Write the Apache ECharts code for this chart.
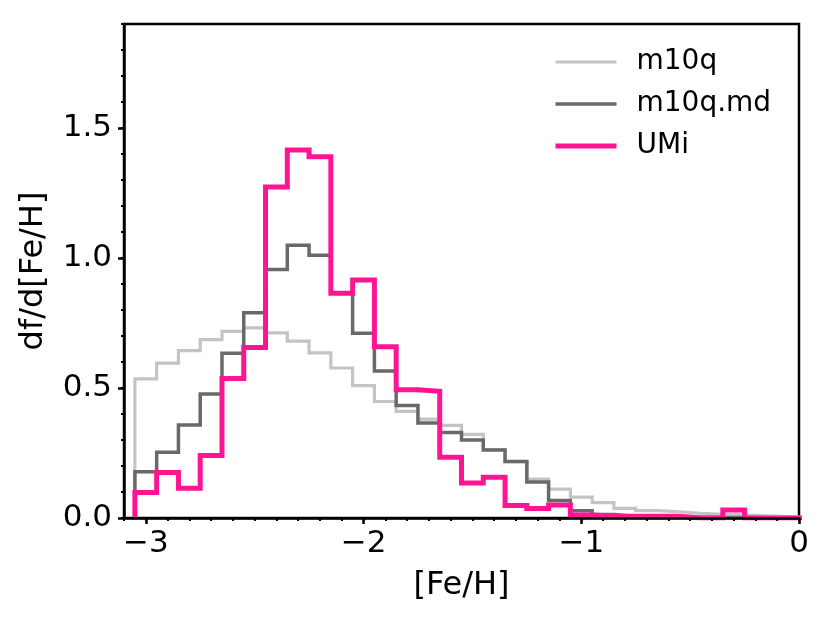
<!DOCTYPE html>
<html>
<head>
<meta charset="UTF-8">
<title>MDF m10q / UMi</title>
<script src="https://cdn.jsdelivr.net/npm/echarts@6/dist/echarts.min.js"></script>
<style>
html, body { margin: 0; padding: 0; background: #fff; }
#chart { width: 830px; height: 623px; }
</style>
</head>
<body>
<div id="chart"></div>
<script>
// bin centres in [Fe/H], all bins 0.1 wide
var binCenters = [-3.0, -2.9, -2.8, -2.7, -2.6, -2.5, -2.4, -2.3, -2.2, -2.1,
                  -2.0, -1.9, -1.8, -1.7, -1.6, -1.5, -1.4, -1.3, -1.2, -1.1,
                  -1.0, -0.9, -0.8, -0.7, -0.6, -0.5, -0.4, -0.3, -0.2, -0.1, 0.0];
var binWidth = 0.1;

// df/d[Fe/H]
var m10q = [0.535, 0.596, 0.644, 0.686, 0.718, 0.731, 0.712, 0.680, 0.635, 0.577,
            0.509, 0.448, 0.410, 0.380, 0.356, 0.322, 0.263, 0.217, 0.150, 0.111,
            0.080, 0.059, 0.037, 0.028, 0.024, 0.018, 0.014, 0.011, 0.008, 0.005, 0.002];
var m10qMd = [0.178, 0.253, 0.358, 0.477, 0.634, 0.789, 0.956, 1.049, 1.011, 0.864,
              0.711, 0.565, 0.433, 0.365, 0.329, 0.300, 0.262, 0.217, 0.138, 0.067,
              0.028, 0.013, 0.006, 0.005, 0.004, 0.003, 0.002, 0.002, 0.001, 0.001, 0.0];
var umi = [0.098, 0.175, 0.114, 0.240, 0.537, 0.656, 1.273, 1.415, 1.389, 0.864,
           0.915, 0.659, 0.493, 0.487, 0.234, 0.135, 0.157, 0.048, 0.037, 0.050,
           0.012, 0.007, 0.007, 0.007, 0.007, 0.0, 0.0, 0.031, 0.0, 0.0, 0.0];

var xMajorTicks = [-3, -2, -1, 0];
var yMajorTicks = [0, 0.5, 1.0, 1.5];

var xMin = -3.1, xMax = 0, yMin = 0, yMax = 1.9;

// minor ticks every 0.1
var xMinorTicks = [], yMinorTicks = [];
for (var k = 0; k <= 31; k++) xMinorTicks.push(Math.round((xMin + k * 0.1) * 10) / 10);
for (var k = 0; k <= 19; k++) yMinorTicks.push(Math.round(k * 0.1 * 10) / 10);

// outline of a step histogram (histtype='step')
function stepOutline(vals) {
  var pts = [];
  pts.push([binCenters[0] - binWidth / 2, 0]);
  for (var i = 0; i < vals.length; i++) {
    pts.push([binCenters[i] - binWidth / 2, vals[i]]);
    pts.push([binCenters[i] + binWidth / 2, vals[i]]);
  }
  pts.push([binCenters[binCenters.length - 1] + binWidth / 2, 0]);
  return pts;
}

var font = 'DejaVu Sans';
var names = ['m10q', 'm10q.md', 'UMi'];
var colors = ['#c4c4c4', '#696969', '#ff1493'];
var widths = [3.2, 3.5, 5];
var values = [m10q, m10qMd, umi];

var series = [];
for (var s = 0; s < names.length; s++) {
  series.push({
    name: names[s],
    type: 'line',
    data: stepOutline(values[s]),
    symbol: 'none',
    showSymbol: false,
    z: 2 + s,
    lineStyle: { color: colors[s], width: widths[s], join: 'miter' },
    itemStyle: { color: colors[s] }
  });
}

var chart = echarts.init(document.getElementById('chart'));

chart.setOption({
  animation: false,
  backgroundColor: '#fff',
  grid: {
    left: 124, right: 31, top: 24, bottom: 105,
    show: true, borderColor: '#000', borderWidth: 2.5, backgroundColor: 'transparent'
  },
  legend: {
    orient: 'vertical',
    left: 553, top: 48,
    padding: 0,
    itemWidth: 61, itemHeight: 28, itemGap: 14,
    data: names.map(function (n, i) {
      return {
        name: n,
        lineStyle: { width: widths[i], color: colors[i] },
        itemStyle: { opacity: 0, color: 'rgba(0,0,0,0)', borderWidth: 0 }
      };
    }),
    textStyle: { fontFamily: font, fontSize: 28, color: '#000', padding: [0, 0, 0, 15] }
  },
  xAxis: [{
    type: 'value', min: xMin, max: xMax, position: 'bottom', z: 10,
    axisLine: { show: true, onZero: false, lineStyle: { color: '#000', width: 2.5 } },
    axisTick: { show: true, customValues: xMinorTicks, length: 3, lineStyle: { color: '#000', width: 2 } },
    axisLabel: { show: false },
    splitLine: { show: false }
  }, {
    type: 'value', min: xMin, max: xMax, position: 'bottom', z: 10,
    axisLine: { show: false, onZero: false },
    axisTick: { show: true, customValues: xMajorTicks, length: 6, lineStyle: { color: '#000', width: 2.5 } },
    axisLabel: {
      customValues: xMajorTicks, margin: 10,
      fontFamily: font, fontSize: 31, color: '#000',
      formatter: function (v) { return String(v).replace('-', '\u2212'); }
    },
    splitLine: { show: false },
    name: '[Fe/H]', nameLocation: 'middle', nameGap: 52,
    nameTextStyle: { fontFamily: font, fontSize: 32, color: '#000' }
  }],
  yAxis: [{
    type: 'value', min: yMin, max: yMax, position: 'left', z: 10,
    axisLine: { show: true, onZero: false, lineStyle: { color: '#000', width: 2.5 } },
    axisTick: { show: true, customValues: yMinorTicks, length: 3, lineStyle: { color: '#000', width: 2 } },
    axisLabel: { show: false },
    splitLine: { show: false }
  }, {
    type: 'value', min: yMin, max: yMax, position: 'left', z: 10,
    axisLine: { show: false, onZero: false },
    axisTick: { show: true, customValues: yMajorTicks, length: 6, lineStyle: { color: '#000', width: 2.5 } },
    axisLabel: {
      customValues: yMajorTicks, margin: 12,
      fontFamily: font, fontSize: 31, color: '#000',
      formatter: function (v) { return v.toFixed(1); }
    },
    splitLine: { show: false },
    name: 'df/d[Fe/H]', nameLocation: 'middle', nameGap: 74, nameRotate: 90,
    nameTextStyle: { fontFamily: font, fontSize: 32, color: '#000' }
  }],
  series: series
});
</script>
</body>
</html>
